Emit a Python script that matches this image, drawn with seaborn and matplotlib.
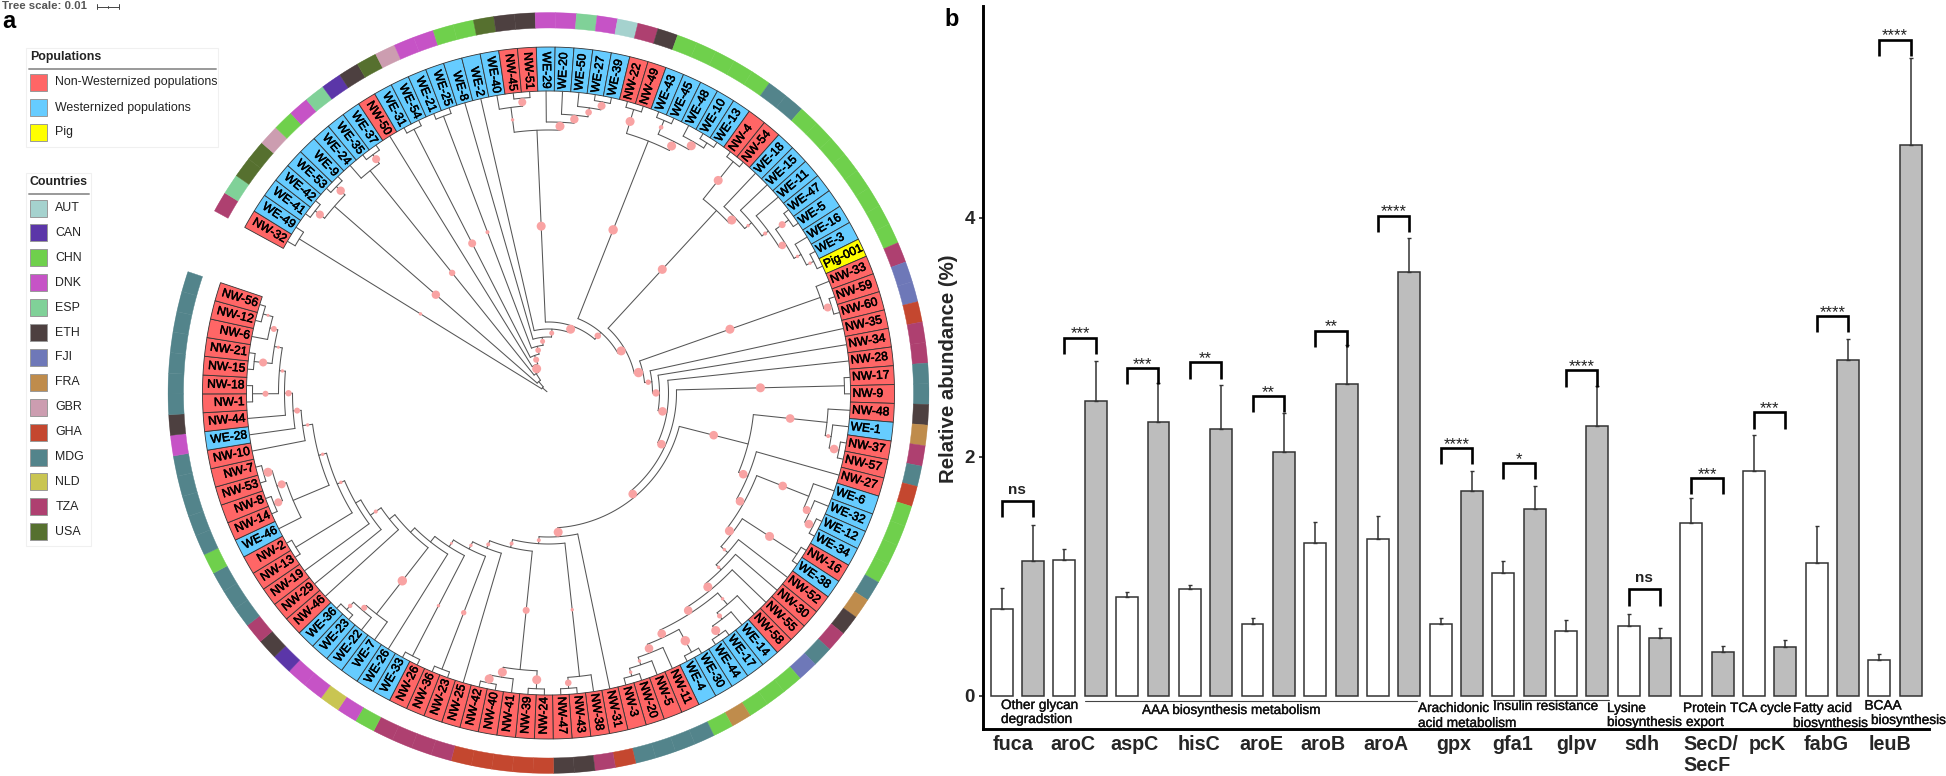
import numpy as np
import pandas as pd
import matplotlib
matplotlib.use("Agg")
import matplotlib.pyplot as plt
import matplotlib.patheffects as pe
from matplotlib.patches import Rectangle
import seaborn as sns

sns.set_theme(style="white")
plt.rcParams['font.family'] = ['Liberation Sans', 'DejaVu Sans']

# --- panel b data ---
genes = ['fuca', 'aroC', 'aspC', 'hisC', 'aroE', 'aroB', 'aroA', 'gpx', 'gfa1', 'glpv',
         'sdh', 'SecD/\nSecF', 'pcK', 'fabG', 'leuB']
white_mean = [0.725, 1.132, 0.829, 0.891, 0.597, 1.277, 1.31, 0.597, 1.028, 0.539,
              0.58, 1.447, 1.878, 1.107, 0.294]
white_top = [0.904, 1.231, 0.871, 0.925, 0.651, 1.451, 1.505, 0.651, 1.128, 0.634,
             0.684, 1.658, 2.185, 1.422, 0.348]
grey_mean = [1.128, 2.467, 2.293, 2.235, 2.04, 2.612, 3.545, 1.712, 1.563, 2.255,
             0.485, 0.365, 0.406, 2.807, 4.61]
grey_top = [1.43, 2.80, 2.62, 2.604, 2.37, 2.935, 3.835, 1.882, 1.754, 2.591,
            0.568, 0.419, 0.469, 2.985, 5.336]
sig_labels = ['ns', '***', '***', '**', '**', '**', '****', '****', '*', '****',
              'ns', '***', '***', '****', '****']
sig_level = [1.629, 2.998, 2.745, 2.79, 2.508, 3.056, 4.02, 2.073, 1.949, 2.724,
             0.891, 1.824, 2.371, 3.18, 5.493]

# --- panel a data ---
leaf_labels = ['NW-32', 'WE-49', 'WE-41', 'WE-42', 'WE-53', 'WE-9', 'WE-24', 'WE-35', 'WE-37', 'NW-50',
               'WE-31', 'WE-54', 'WE-21', 'WE-25', 'WE-8', 'WE-2', 'WE-40', 'NW-45', 'NW-51', 'WE-29',
               'WE-20', 'WE-50', 'WE-27', 'WE-39', 'NW-22', 'NW-49', 'WE-43', 'WE-45', 'WE-48', 'WE-10',
               'WE-13', 'NW-4', 'NW-54', 'WE-18', 'WE-15', 'WE-11', 'WE-47', 'WE-5', 'WE-16', 'WE-3',
               'Pig-001', 'NW-33', 'NW-59', 'NW-60', 'NW-35', 'NW-34', 'NW-28', 'NW-17', 'NW-9', 'NW-48',
               'WE-1', 'NW-37', 'NW-57', 'NW-27', 'WE-6', 'WE-32', 'WE-12', 'WE-34', 'NW-16', 'WE-38',
               'NW-52', 'NW-30', 'NW-55', 'NW-58', 'WE-14', 'WE-17', 'WE-44', 'WE-30', 'WE-4', 'NW-11',
               'NW-5', 'NW-20', 'NW-3', 'NW-31', 'NW-38', 'NW-43', 'NW-47', 'NW-24', 'NW-39', 'NW-41',
               'NW-40', 'NW-42', 'NW-25', 'NW-23', 'NW-36', 'NW-26', 'WE-33', 'WE-26', 'WE-7', 'WE-22',
               'WE-23', 'WE-36', 'NW-46', 'NW-29', 'NW-19', 'NW-13', 'NW-2', 'WE-46', 'NW-14', 'NW-8',
               'NW-53', 'NW-7', 'NW-10', 'WE-28', 'NW-44', 'NW-1', 'NW-18', 'NW-15', 'NW-21', 'NW-6',
               'NW-12', 'NW-56']
leaf_country = ['TZA', 'ESP', 'USA', 'USA', 'GBR', 'CHN', 'DNK', 'ESP', 'CAN', 'ETH',
                'USA', 'GBR', 'DNK', 'DNK', 'CHN', 'CHN', 'USA', 'ETH', 'ETH', 'DNK',
                'DNK', 'ESP', 'DNK', 'AUT', 'TZA', 'ETH', 'CHN', 'CHN', 'CHN', 'CHN',
                'CHN', 'MDG', 'MDG', 'CHN', 'CHN', 'CHN', 'CHN', 'CHN', 'CHN', 'CHN',
                'CHN', 'TZA', 'FJI', 'FJI', 'GHA', 'TZA', 'TZA', 'MDG', 'MDG', 'ETH',
                'FRA', 'TZA', 'MDG', 'GHA', 'CHN', 'CHN', 'CHN', 'CHN', 'MDG', 'FRA',
                'ETH', 'TZA', 'MDG', 'FJI', 'CHN', 'CHN', 'CHN', 'FRA', 'CHN', 'MDG',
                'MDG', 'MDG', 'MDG', 'GHA', 'TZA', 'ETH', 'ETH', 'GHA', 'GHA', 'GHA',
                'GHA', 'GHA', 'TZA', 'TZA', 'TZA', 'TZA', 'CHN', 'DNK', 'NLD', 'DNK',
                'DNK', 'CAN', 'ETH', 'TZA', 'MDG', 'MDG', 'MDG', 'CHN', 'MDG', 'MDG',
                'MDG', 'MDG', 'MDG', 'DNK', 'ETH', 'MDG', 'MDG', 'MDG', 'MDG', 'MDG',
                'MDG', 'MDG']
population_names = ['Non-Westernized populations', 'Westernized populations', 'Pig']
population_colors = ['#FF6666', '#66CCFF', '#FFFF00']
country_names = ['AUT', 'CAN', 'CHN', 'DNK', 'ESP', 'ETH', 'FJI', 'FRA', 'GBR', 'GHA', 'MDG', 'NLD', 'TZA', 'USA']
country_colors = ['#A5D2CE', '#5B36A8', '#6FD04C', '#C653C6', '#80D198', '#4D4040', '#6E78B8',
                  '#BF8C4C', '#CC9DB0', '#C4472F', '#53848B', '#C9C552', '#AE4070', '#56702F']


def N(r, dot, *kids):
    # internal node: radius, support dot on its stem, children clockwise
    return (r, dot, kids)


def B(a, b, dot=0, r=296):
    # the many two-leaf boxes at the rim
    return N(r, dot, a, b)


clade_top = N(263, 4.5,
              N(288, 1.7, 'WE-40', B('NW-45', 'NW-51', 4)),
              N(271, 4.5, 'WE-29',
                N(279, 4.2, 'WE-20',
                  N(288, 3.3, 'WE-50', B('WE-27', 'WE-39', 4)))))
clade_22 = N(271, 4.7,
             B('NW-22', 'NW-49', 4.5),
             N(281, 4.5, B('WE-43', 'WE-45', 2.3),
               N(290, 4.5, 'WE-48', B('WE-10', 'WE-13'))))
clade_4 = N(248, 4.5,
            B('NW-4', 'NW-54', 4.5),
            N(256, 4.5, 'WE-18',
              N(265, 1.7, 'WE-15',
                N(273, 2, 'WE-11',
                  N(280, 3.8, B('WE-47', 'WE-5', 3.5),
                    N(288, 1.7, 'WE-16', N(296, 1.7, 'WE-3', 'Pig-001')))))))
clade_48 = N(280, 4.3, 'NW-48', N(286, 2, 'WE-1', B('NW-37', 'NW-57', 4.3)))
clade_6 = N(280, 4.3, 'WE-6', N(287, 4, 'WE-32', B('WE-12', 'WE-34', 4.3)))
clade_58 = N(277, 1.7, 'NW-58', N(285, 2.5, 'WE-14', B('WE-17', 'WE-44', 4.5)))
clade_30 = N(270, 4.3, B('WE-30', 'WE-4', 4.7),
             N(279, 4.3, 'NW-11', N(287, 1.7, 'NW-5', B('NW-20', 'NW-3', 1.7, 295))))
clade_right = N(206, 4.3, clade_48,
                N(216, 4.3, 'NW-27',
                  N(224, 4.3, clade_6,
                    N(231, 4.5, B('NW-16', 'WE-38', 4.5),
                      N(240, 1.7, 'NW-52',
                        N(247, 1.7, 'NW-30',
                          N(255, 4.5, 'NW-55',
                            N(262, 4.3, clade_58, clade_30))))))))
clade_38 = N(285, 1.7, 'NW-38', B('NW-43', 'NW-47', 3.3))
clade_24 = N(278, 3.5, B('NW-24', 'NW-39', 4.5),
             N(288, 4.5, 'NW-41', B('NW-40', 'NW-42', 4.5)))
clade_7 = N(280, 4.7, 'WE-7', N(286, 3, 'WE-22', B('WE-23', 'WE-36', 2.2)))
clade_46 = N(277, 0, 'WE-46',
             N(287, 4, B('NW-14', 'NW-8', 4), B('NW-53', 'NW-7', 4.5)))
# the left rim of the tree, ending in NW-56
rim_left = N(248, 1.7, 'NW-10',
             N(256, 3, 'WE-28',
               N(264, 3.2, 'NW-44',
                 N(270, 1.7, B('NW-1', 'NW-18', 3),
                   N(278, 1.5, B('NW-15', 'NW-21', 4),
                     N(286, 3, 'NW-6', B('NW-12', 'NW-56', 1.5)))))))
spine_low = N(203, 0, 'NW-46',
              N(216, 2, 'NW-29',
                N(222, 0, 'NW-19',
                  N(230, 1.7, B('NW-13', 'NW-2'),
                    N(238, 1.7, clade_46, rim_left)))))
spine_bottom = N(144, 4.5, 'NW-31',
                 N(151, 2, clade_38,
                   N(159, 2, clade_24,
                     N(167, 2, 'NW-25',
                       N(175, 1.7, B('NW-23', 'NW-36', 2.7),
                         N(183, 1.4, B('NW-26', 'WE-33', 1.7),
                           N(190, 0, 'WE-26',
                             N(196, 0, clade_7, spine_low))))))))
spine_right = N(96.6, 4.7, N(288, 4.5, 'NW-33', B('NW-59', 'NW-60', 4)),
                N(104, 2.7, 'NW-35',
                  N(111, 3.7, 'NW-34',
                    N(120, 4.3, 'NW-28',
                      N(128, 4.3, B('NW-17', 'NW-9', 4.5),
                        N(135, 4.3, clade_right, spine_bottom))))))
tree = N(8, 0, B('NW-32', 'WE-49', 1.7, 293),
         N(15, 0, N(284, 4.2, B('WE-41', 'WE-42', 4), B('WE-53', 'WE-9', 4.2)),
           N(23, 0, N(285, 3.2, 'WE-24', B('WE-35', 'WE-37', 4)),
             N(31, 4.5, 'NW-50',
               N(40, 3, B('WE-31', 'WE-54', 4),
                 N(48, 2.8, B('WE-21', 'WE-25', 2),
                   N(56, 2.5, 'WE-8',
                     N(64, 2.5, 'WE-2',
                       N(71, 4.5, clade_top,
                         N(80, 3.3, clade_22,
                           N(88, 4.5, clade_4, spine_right)))))))))) )

# --- figure and panel a ---
W, H = 1946, 776
fig = plt.figure(figsize=(W / 100, H / 100), dpi=100, facecolor='white')

cx, cy, rmax = 548.5, 393, 381
ax_tree = fig.add_axes([(cx - rmax) / W, (H - cy - rmax) / H, 2 * rmax / W, 2 * rmax / H], projection='polar')
ax_tree.set_ylim(0, rmax)
ax_tree.axis('off')

step = np.deg2rad(3.125)
start = np.deg2rad(151.4)
leaf_angle = {name: start - step * (i + 0.5) for i, name in enumerate(leaf_labels)}
country_lookup = dict(zip(country_names, country_colors))
R_LEAF = 302


def leaf_color(name):
    if name.startswith('NW'):
        return population_colors[0]
    if name.startswith('WE'):
        return population_colors[1]
    return population_colors[2]


thetas = [leaf_angle[n] for n in leaf_labels]
ax_tree.bar(thetas, 44, width=step, bottom=R_LEAF, color=[leaf_color(n) for n in leaf_labels],
            edgecolor='#333333', linewidth=0.6)
ring_colors = [country_lookup[c] for c in leaf_country]
# same colour edge so no white seams show between cells of one country
ax_tree.bar(thetas, 15.5, width=step, bottom=365, color=ring_colors, edgecolor=ring_colors, linewidth=0.3)

label_effect = [pe.withStroke(linewidth=0.35, foreground='black')]
for name, th in zip(leaf_labels, thetas):
    deg = np.rad2deg(th) % 360
    right = deg < 90 or deg > 270
    ax_tree.text(th, R_LEAF + 2, name, rotation=deg if right else deg + 180, rotation_mode='anchor',
                 ha='left' if right else 'right', va='center', fontsize=8.7, color='black',
                 path_effects=label_effect)

dot_th, dot_r, dot_s = [], [], []


def draw_node(node, parent_r):
    if isinstance(node, str):
        th, r, dot = leaf_angle[node], R_LEAF, 0
    else:
        r, dot, kids = node
        first = draw_node(kids[0], r)
        last = draw_node(kids[-1], r)
        th = (first + last) / 2
        arc = np.linspace(first, last, 40)
        ax_tree.plot(arc, np.full(40, r), color='#555555', lw=0.75, zorder=2)
    ax_tree.plot([th, th], [parent_r, r], color='#555555', lw=0.75, zorder=2)
    if dot:
        dot_th.append(th)
        dot_r.append((parent_r + r) / 2)
        dot_s.append(dot)
    return th


draw_node(tree, 2)
# dot radius is in pixels, scatter wants points squared
ax_tree.scatter(dot_th, dot_r, s=[(2 * d * 0.72) ** 2 for d in dot_s], color='#F9A3A3', linewidths=0, zorder=3)

# --- panel b ---
ax = fig.add_axes([983 / W, (H - 729) / H, (1929 - 983) / W, (729 - 6) / H])
df = pd.DataFrame({
    'gene': genes * 2,
    'group': ['white'] * len(genes) + ['grey'] * len(genes),
    'abundance': white_mean + grey_mean,
})
sns.barplot(data=df, x='gene', y='abundance', hue='group', order=genes, hue_order=['white', 'grey'],
            palette={'white': 'white', 'grey': '#BDBDBD'}, width=1.0, gap=0.3, saturation=1,
            edgecolor='#333333', linewidth=1.1, errorbar=None, legend=False, ax=ax)

centers = []
for container, tops, means in zip(ax.containers, [white_top, grey_top], [white_mean, grey_mean]):
    xs = [p.get_x() + p.get_width() / 2 for p in container]
    centers.append(xs)
    ups = np.array(tops) - np.array(means)
    ax.errorbar(xs, means, yerr=[np.zeros(len(xs)), ups], fmt='none', ecolor='#333333',
                elinewidth=1.1, capsize=1.6, capthick=1.0)

leg = 0.137
for x0, x1, level, label in zip(centers[0], centers[1], sig_level, sig_labels):
    ax.plot([x0, x0, x1, x1], [level - leg, level, level, level - leg], color='black', lw=1.9,
            solid_joinstyle='miter', solid_capstyle='butt')
    if label == 'ns':
        ax.text((x0 + x1) / 2, level + 0.09, label, ha='center', va='center', fontsize=11, fontweight='bold', color='#222222')
    else:
        ax.text((x0 + x1) / 2, level + 0.03, label, ha='center', va='center', fontsize=12, color='#222222')

ax.set_xlim(-0.549, 14.54)
ax.set_ylim(-0.28, 5.775)
ax.set_yticks([0, 2, 4])
ax.set_yticklabels(['0', '2', '4'], fontsize=13.5, fontweight='bold')
gene_label_offset = [-0.07, -0.11, -0.14, -0.10, -0.115, -0.126, -0.12, -0.04, -0.10, -0.075,
                     -0.04, 0.06, -0.045, -0.10, -0.08]
ax.set_xticks(np.arange(len(genes)) + np.array(gene_label_offset))
ax.set_xticklabels(genes, fontsize=14.2, fontweight='bold', linespacing=1.12, multialignment='left')
ax.tick_params(axis='x', length=0, pad=4.5)
ax.tick_params(axis='y', length=3, width=1.2, pad=3, left=True)
ax.set_xlabel('')
ax.set_ylabel('Relative abundance (%)', fontsize=14.7, fontweight='bold')
ax.yaxis.set_label_coords(-0.0264, 0.498)
for side in ['top', 'right']:
    ax.spines[side].set_visible(False)
for side in ['left', 'bottom']:
    ax.spines[side].set_linewidth(2.1)
    ax.spines[side].set_color('black')
ax.plot([1.08, 6.37], [-0.042, -0.042], color='#444444', lw=0.8, clip_on=False)
ax.plot([7.585, 9.43], [-0.035, -0.035], color='#444444', lw=0.8, clip_on=False)

# --- page level annotations, legends of panel a ---
page = fig.add_axes([0, 0, 1, 1], facecolor='none')
page.set_xlim(0, W)
page.set_ylim(H, 0)
page.axis('off')


def legend_box(x0, y0, x1, y1, title, rule_x1, names, colors, swatch_top, swatch_step):
    page.add_patch(Rectangle((x0, y0), x1 - x0, y1 - y0, facecolor='white', edgecolor='#F0F0F0', lw=0.8))
    page.text(30, y0 + 9, title, fontsize=8.9, fontweight='bold', va='center', color='#222222')
    page.plot([29, rule_x1], [y0 + 21, y0 + 21], color='#999999', lw=1.4)
    for i, (name, col) in enumerate(zip(names, colors)):
        y = swatch_top + i * swatch_step
        page.add_patch(Rectangle((30, y), 17, 17, facecolor=col, edgecolor='#999999', lw=0.7))
        page.text(55.3, y + 8.5, name, fontsize=8.9, va='center', color='#222222')


legend_box(26, 48, 218, 147, 'Populations', 216, population_names, population_colors, 74, 25)
legend_box(26, 173, 91, 546, 'Countries', 89, country_names, country_colors, 199.5, 24.9)

page.text(2, 6, 'Tree scale: 0.01', fontsize=8.2, fontweight='bold', va='center', color='#555555')
page.plot([97, 119], [6.5, 6.5], color='#444444', lw=0.7)
for x_tick, half in zip([97, 108, 119], [2.5, 1, 2.5]):
    page.plot([x_tick, x_tick], [6.5 - half, 6.5 + half], color='#444444', lw=0.7)
page.text(2, 21, 'a', fontsize=17, fontweight='bold', va='center', color='black')
page.text(944, 19, 'b', fontsize=17, fontweight='bold', va='center', color='black')

group_notes = [
    (1001, 705, 'Other glycan'), (1001, 719, 'degradstion'),
    (1142, 710, 'AAA biosynthesis metabolism'),
    (1418, 708, 'Arachidonic'), (1418, 723, 'acid metabolism'),
    (1493, 706, 'Insulin resistance'),
    (1607, 708, 'Lysine'), (1607, 722, 'biosynthesis'),
    (1683, 708, 'Protein'), (1686, 722, 'export'),
    (1730, 708, 'TCA cycle'),
    (1793, 708, 'Fatty acid'), (1793, 723, 'biosynthesis'),
    (1864.5, 705.5, 'BCAA'), (1871, 720, 'biosynthesis'),
]
note_effect = [pe.withStroke(linewidth=0.25, foreground='#111111')]
for x_note, y_note, note in group_notes:
    page.text(x_note, y_note, note, fontsize=9.8, va='center', color='#111111', path_effects=note_effect)

fig.savefig('out.png', dpi=100)
